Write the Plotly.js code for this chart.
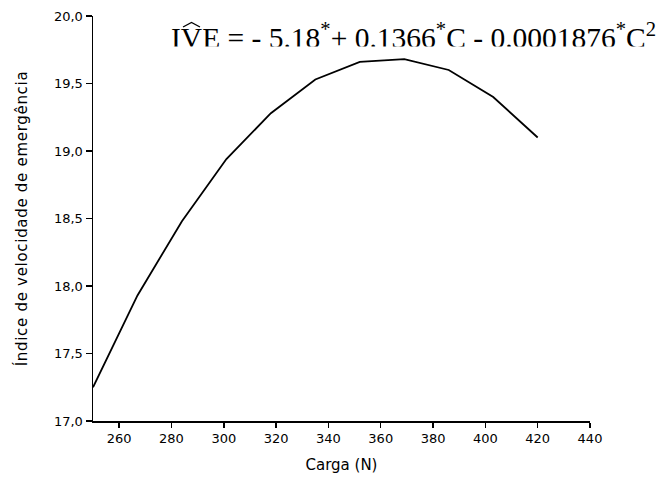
<!DOCTYPE html>
<html>
<head>
<meta charset="utf-8">
<script src="https://cdn.plot.ly/plotly-3.0.1.min.js"></script>
<style>
body{margin:0;padding:0;background:#fff;}
#chart{width:672px;height:490px;}
.g-ytitle text{letter-spacing:0.7px;}
</style>
</head>
<body>
<div id="chart"></div>
<script>
var carga = [250, 267, 284, 301, 318, 335, 352, 369, 386, 403, 420];
var ive = [17.25, 17.93, 18.48, 18.94, 19.28, 19.53, 19.66, 19.68, 19.60, 19.40, 19.10];
var xTicks = [260, 280, 300, 320, 340, 360, 380, 400, 420, 440];
var yTicks = [17.0, 17.5, 18.0, 18.5, 19.0, 19.5, 20.0];
var equation = 'IVE = - 5.18<sup>*</sup>+ 0.1366<sup>*</sup>C - 0.0001876<sup>*</sup>C<sup>2</sup>';

var trace = {
  x: carga, y: ive, type: 'scatter', mode: 'lines',
  line: {color: '#000', width: 1.8}, hoverinfo: 'skip'
};
var sans = 'DejaVu Sans, Arial, sans-serif';
var axisFont = {family: sans, size: 13, color: '#000'};
var layout = {
  width: 672, height: 490,
  margin: {l: 93, r: 82, t: 16, b: 69},
  paper_bgcolor: '#fff', plot_bgcolor: '#fff',
  separators: ',.',
  showlegend: false,
  xaxis: {
    range: [250, 440], tickvals: xTicks, ticks: 'outside', ticklen: 5, tickwidth: 1.5,
    tickcolor: '#000', showline: true, linecolor: '#000', linewidth: 1.5,
    showgrid: false, zeroline: false, tickfont: axisFont,
    title: {text: 'Carga (N)', font: {family: sans, size: 15, color: '#000'}, standoff: 14}
  },
  yaxis: {
    range: [17, 20], tickvals: yTicks, tickformat: '.1f', ticks: 'outside', ticklen: 6, tickwidth: 1.5,
    tickcolor: '#000', showline: true, linecolor: '#000', linewidth: 1.5,
    showgrid: false, zeroline: false, tickfont: axisFont,
    title: {text: 'Índice de velocidade de emergência', font: {family: sans, size: 15, color: '#000'}, standoff: 22}
  },
  shapes: [{
    type: 'path', xref: 'paper', yref: 'paper',
    path: 'M 0.1811 0.9728 L 0.1982 0.9840 L 0.2153 0.9728',
    line: {color: '#000', width: 1.3}
  }],
  annotations: [{
    xref: 'paper', yref: 'paper', x: 0.153, y: 1.0, xanchor: 'left', yanchor: 'top',
    text: equation, showarrow: false,
    font: {family: 'Liberation Serif, Times New Roman, serif', size: 29.5, color: '#000'}
  }, {
    xref: 'paper', yref: 'paper', x: 0.651, y: 0.9136, xanchor: 'center', yanchor: 'middle',
    text: '&nbsp;', showarrow: false, width: 503, height: 7, borderpad: 0,
    bgcolor: '#fff', font: {size: 1, color: '#fff'}
  }]
};
Plotly.newPlot('chart', [trace], layout, {displayModeBar: false, staticPlot: true});
</script>
</body>
</html>
